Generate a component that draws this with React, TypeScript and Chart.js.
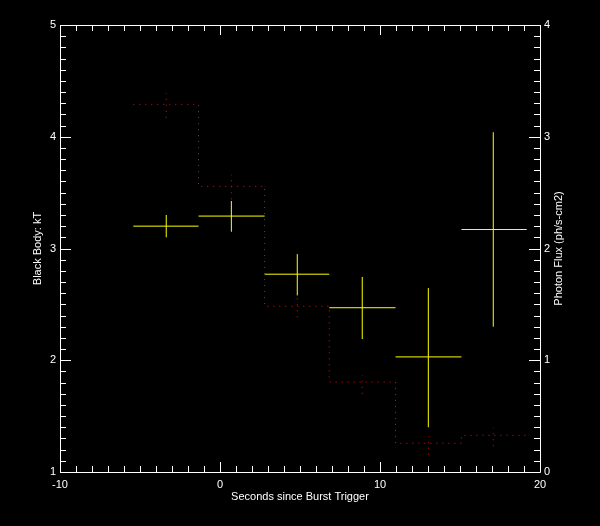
import React, { useEffect, useRef } from "react";
import { Chart, registerables } from "chart.js";
Chart.register(...registerables);

// Time bins (seconds since burst trigger)
const binEdges = [-5.42, -1.34, 2.79, 6.83, 10.97, 15.09, 19.17];
const binCenters = [-3.36, 0.71, 4.83, 8.89, 13.02, 17.08];
// Black body kT (left axis)
const kT = [3.2, 3.29, 2.77, 2.47, 2.03, 3.17];
const kTLow = [3.1, 3.15, 2.58, 2.19, 1.4, 2.3];
const kTHigh = [3.3, 3.425, 2.95, 2.745, 2.646, 4.04];
// Photon flux (right axis)
const flux = [3.29, 2.556, 1.483, 0.805, 0.257, 0.328];
const fluxLow = [3.17, 2.44, 1.384, 0.7, 0.155, 0.23];
const fluxHigh = [3.39, 2.66, 1.58, 0.865, 0.32, 0.394];
// Tick labels
const xTicks = [-10, 0, 10, 20];
const kTTicks = [1, 2, 3, 4, 5];
const fluxTicks = [0, 1, 2, 3, 4];

const FONT = "Liberation Sans";
const FONT_SIZE = 11;

export default function App() {
  const ref = useRef<HTMLCanvasElement | null>(null);

  useEffect(() => {
    document.body.style.margin = "0";
    document.body.style.background = "#000";
    const canvas = ref.current!;

    const kTH: any[] = [];
    const kTV: any[] = [];
    const fluxErr: any[] = [];
    for (let i = 0; i < kT.length; i++) {
      kTH.push({ x: binEdges[i], y: kT[i] }, { x: binEdges[i + 1], y: kT[i] }, { x: binCenters[i], y: null });
      kTV.push({ x: binCenters[i], y: kTLow[i] }, { x: binCenters[i], y: kTHigh[i] }, { x: binCenters[i], y: null });
      fluxErr.push({ x: binCenters[i], y: fluxLow[i] }, { x: binCenters[i], y: fluxHigh[i] }, { x: binCenters[i], y: null });
    }
    const step: any[] = [];
    for (let i = 0; i < flux.length; i++) {
      step.push({ x: binEdges[i], y: flux[i] }, { x: binEdges[i + 1], y: flux[i] });
    }

    const framePlugin = {
      id: "frame",
      beforeDraw(chart: any) {
        const ctx = chart.ctx;
        ctx.save();
        ctx.fillStyle = "#000";
        ctx.fillRect(0, 0, chart.width, chart.height);
        ctx.restore();
      },
      afterDraw(chart: any) {
        const ctx = chart.ctx;
        const { left, right, top, bottom } = chart.chartArea;
        const xs = chart.scales.x;
        const ys = chart.scales.y;
        const y2 = chart.scales.y2;
        ctx.save();
        ctx.strokeStyle = "#fff";
        ctx.lineWidth = 1;
        ctx.beginPath();
        ctx.rect(left + 0.5, top + 0.5, right - left, bottom - top);
        // x ticks (top and bottom, inward)
        for (let v = -10; v <= 20; v++) {
          const px = Math.round(xs.getPixelForValue(v)) + 0.5;
          const len = v % 10 === 0 ? 10 : 6;
          ctx.moveTo(px, bottom);
          ctx.lineTo(px, bottom - len);
          ctx.moveTo(px, top);
          ctx.lineTo(px, top + len);
        }
        // left ticks
        for (let k = 10; k <= 50; k++) {
          const v = k / 10;
          const py = Math.round(ys.getPixelForValue(v)) + 0.5;
          const len = k % 10 === 0 ? 11 : 6;
          ctx.moveTo(left, py);
          ctx.lineTo(left + len, py);
        }
        // right ticks
        for (let k = 0; k <= 40; k++) {
          const v = k / 10;
          const py = Math.round(y2.getPixelForValue(v)) + 0.5;
          const len = k % 10 === 0 ? 11 : 6;
          ctx.moveTo(right, py);
          ctx.lineTo(right - len, py);
        }
        ctx.stroke();

        // titles
        ctx.fillStyle = "#fff";
        ctx.font = `${FONT_SIZE}px "${FONT}"`;
        ctx.textAlign = "center";
        ctx.textBaseline = "middle";
        ctx.fillText("Seconds since Burst Trigger", (left + right) / 2, 497);
        const cy = (top + bottom) / 2;
        ctx.save();
        ctx.translate(38, cy);
        ctx.rotate(-Math.PI / 2);
        ctx.fillText("Black Body: kT", 0, 0);
        ctx.restore();
        ctx.save();
        ctx.translate(559, cy);
        ctx.rotate(-Math.PI / 2);
        ctx.fillText("Photon Flux (ph/s-cm2)", 0, 0);
        ctx.restore();
        ctx.restore();
      },
    };

    const tickFont = { family: FONT, size: FONT_SIZE };

    const chart = new Chart(canvas, {
      type: "scatter",
      data: {
        datasets: [
          {
            data: step,
            yAxisID: "y2",
            showLine: true,
            borderColor: "#ff0000",
            borderWidth: 1,
            borderDash: [1, 5],
            pointRadius: 0,
            spanGaps: false,
          },
          {
            data: fluxErr,
            yAxisID: "y2",
            showLine: true,
            borderColor: "#ff0000",
            borderWidth: 1,
            borderDash: [1, 5],
            pointRadius: 0,
            spanGaps: false,
          },
          {
            data: kTH,
            yAxisID: "y",
            showLine: true,
            borderColor: "#ffff00",
            borderWidth: 1,
            pointRadius: 0,
            spanGaps: false,
          },
          {
            data: kTV,
            yAxisID: "y",
            showLine: true,
            borderColor: "#ffff00",
            borderWidth: 1,
            pointRadius: 0,
            spanGaps: false,
          },
        ],
      },
      options: {
        animation: false,
        responsive: false,
        devicePixelRatio: 1,
        layout: { padding: { top: 25, left: 0, right: 0, bottom: 0 } },
        plugins: { legend: { display: false }, tooltip: { enabled: false } },
        scales: {
          x: {
            type: "linear",
            position: "bottom",
            min: -10,
            max: 20,
            afterBuildTicks: (s: any) => {
              s.ticks = xTicks.map((v) => ({ value: v }));
            },
            afterFit: (s: any) => {
              s.height = 54;
            },
            ticks: { color: "#fff", font: tickFont, padding: 6, maxRotation: 0, autoSkip: false },
            grid: { display: false, drawTicks: false },
            border: { display: false },
          },
          y: {
            type: "linear",
            position: "left",
            min: 1,
            max: 5,
            afterBuildTicks: (s: any) => {
              s.ticks = kTTicks.map((v) => ({ value: v }));
            },
            afterFit: (s: any) => {
              s.width = 60;
            },
            ticks: { color: "#fff", font: tickFont, padding: 4, autoSkip: false },
            grid: { display: false, drawTicks: false },
            border: { display: false },
          },
          y2: {
            type: "linear",
            position: "right",
            min: 0,
            max: 4,
            afterBuildTicks: (s: any) => {
              s.ticks = fluxTicks.map((v) => ({ value: v }));
            },
            afterFit: (s: any) => {
              s.width = 60;
            },
            ticks: { color: "#fff", font: tickFont, padding: 4, autoSkip: false },
            grid: { display: false, drawTicks: false },
            border: { display: false },
          },
        },
      } as any,
      plugins: [framePlugin],
    });

    return () => chart.destroy();
  }, []);

  return <canvas ref={ref} width={600} height={526} style={{ display: "block", background: "#000" }} />;
}
